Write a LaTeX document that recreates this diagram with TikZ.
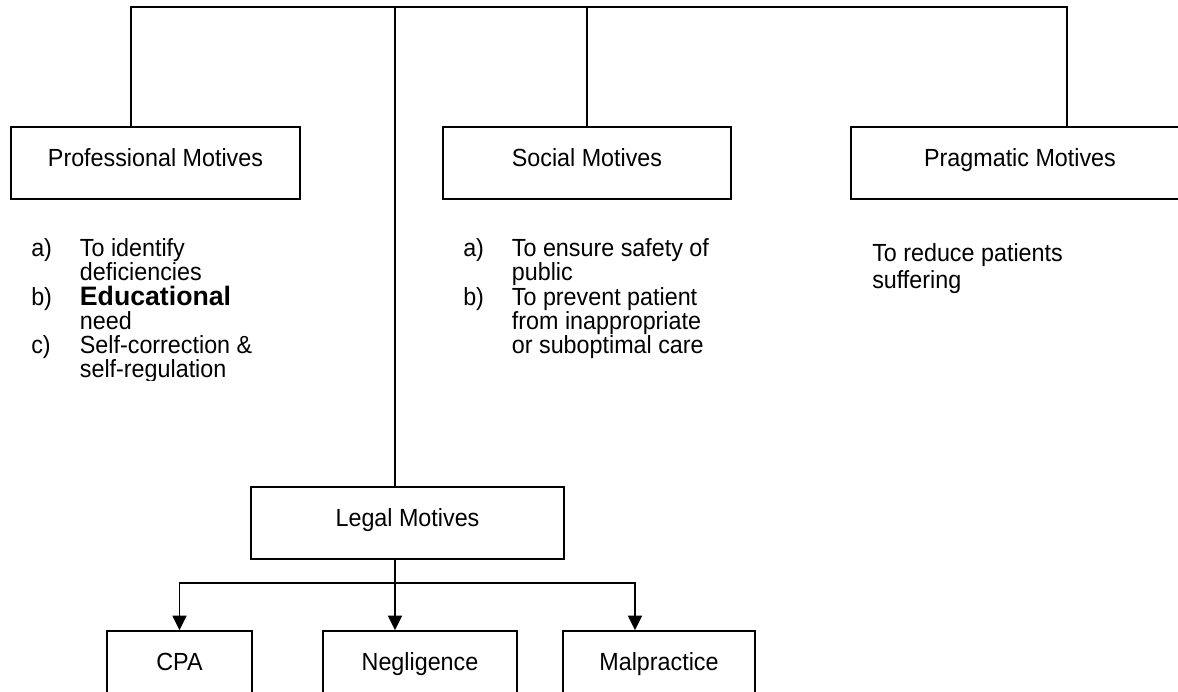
\documentclass[tikz,border=0pt]{standalone}
\usepackage{fontspec}
\setmainfont{Liberation Sans}[FakeStretch=0.94]
\newfontfamily\widefont{Liberation Sans}
\usetikzlibrary{arrows.meta,calc}
\newcommand{\lbl}[1]{\makebox[36.5pt][l]{#1}}
\newcommand{\ind}{\hspace*{36.5pt}}
\newcommand{\topstrut}{\rule{0pt}{15pt}}
\begin{document}
\begin{tikzpicture}[x=0.75pt,y=-0.75pt,
  every node/.style={font={\fontsize{18.6pt}{18.15pt}\selectfont\lineskiplimit=-30pt}},
  mbox/.style={draw,line width=1.1pt,inner xsep=0pt,inner ysep=0pt,
    text height=29.5pt,text depth=24.5pt,minimum height=54pt},
  conn/.style={line width=1.1pt},
  arr/.style={line width=1.1pt,-{Triangle[length=11pt,width=10.5pt]}},
  lst/.style={inner sep=0pt,anchor=north west,align=left}]
\useasboundingbox (0,0) rectangle (1178,692);
\clip (0,0) rectangle (1178,692);
% boxes
\node[mbox,minimum width=216.75pt] (prof) at (155.5,163) {Professional Motives};
\node[mbox,minimum width=216pt] (social) at (587,163) {Social Motives};
\node[mbox,minimum width=253.5pt] (prag) at (1020,163) {Pragmatic Motives};
\node[mbox,minimum width=234.75pt] (legal) at (407.5,523) {Legal Motives};
\node[mbox,minimum width=108.75pt] (cpa) at (179.5,667) {CPA};
\node[mbox,minimum width=145.5pt] (negl) at (420,667) {Negligence};
\node[mbox,minimum width=144pt] (mal) at (659,667) {Malpractice};
% top connectors
\coordinate (t1) at (131,7);
\coordinate (t2) at (395,7);
\coordinate (t3) at (587,7);
\coordinate (t4) at (1067,7);
\draw[conn] (prof.north -| t1) -- (t1) -- (t4) -- (prag.north -| t4);
\draw[conn] (t2) -- (legal.north -| t2);
\draw[conn] (t3) -- (social.north -| t3);
% legal connectors
\coordinate (b) at (395,583);
\coordinate (m) at (635,583);
\draw[arr] (legal.south -| b) -- (negl.north -| b);
\draw[arr] (b) -| (cpa.north);
\draw[arr] (b) -| (mal.north -| m);
% lists
\begin{scope}
\clip (0,200) rectangle (400,380);
\node[lst] (proflist) at (31,236.5) {\topstrut\lbl{a)}To identify\\
\ind deficiencies\\
\lbl{b)}{\widefont\fontsize{20pt}{18.15pt}\selectfont\bfseries Educational}\\
\ind need\\
\lbl{c)}Self-correction \&\\
\ind self-regulation};
\end{scope}
\node[lst] (soclist) at (463,236.5) {\topstrut\lbl{a)}To ensure safety of\\
\ind public\\
\lbl{b)}To prevent patient\\
\ind from inappropriate\\
\ind or suboptimal care};
\node[lst] (praglist) at (872,241.5) {\topstrut To reduce patients\\[2.1pt]
suffering};
\end{tikzpicture}
\end{document}
